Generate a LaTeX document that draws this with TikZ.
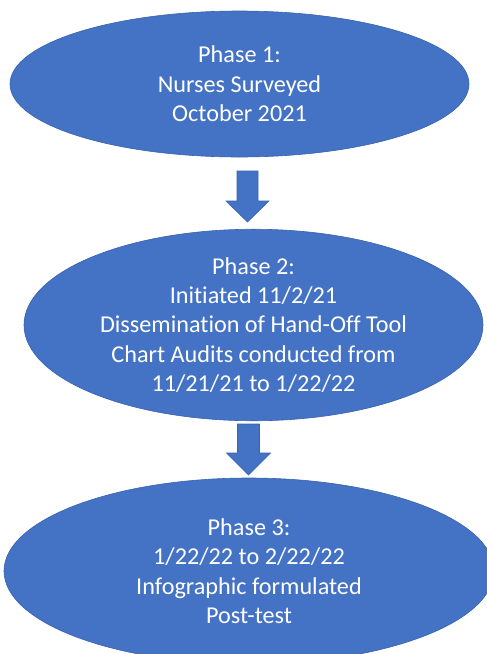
\documentclass[tikz,border=0pt]{standalone}
\usepackage{fontspec}
\setmainfont[Ligatures={NoCommon}]{Carlito}
\usetikzlibrary{shapes.geometric}
\definecolor{fillblue}{HTML}{4472C4}
\definecolor{edgeblue}{HTML}{3A63AE}
\tikzset{
  phase/.style={ellipse, fill=fillblue, draw=edgeblue, line width=0.6pt, inner sep=0pt,
    text=white, align=center, font=\fontsize{24.2}{29.4}\selectfont},
  blockarrow/.style={fill=fillblue, draw=edgeblue, line width=0.6pt}
}
\begin{document}
\begin{tikzpicture}[x=1pt,y=1pt]
\useasboundingbox (0,0) rectangle (487,-654);
\clip (0,0) rectangle (487,-654);
\node[phase, minimum width=459pt, minimum height=146pt] (p1) at (239.5,-84) {Phase 1:\\Nurses Surveyed\\October 2021};
\node[phase, minimum width=459pt, minimum height=184pt] (p2) at (253.5,-325) {Phase 2:\\Initiated 11/2/21\\Dissemination of Hand-Off Tool\\Chart Audits conducted from\\11/21/21 to 1/22/22};
\node[phase, minimum width=490pt, minimum height=186pt] (p3) at (249,-571) {Phase 3:\\1/22/22 to 2/22/22\\Infographic formulated\\Post-test};
% block arrows
\coordinate (a1) at (247.5,-171);
\coordinate (a2) at (248.5,-424);
\draw[blockarrow] (a1) ++(-10.5,0) -- ++(21,0) -- ++(0,-30) -- ++(11,0) -- ++(-21.5,-21) -- ++(-21.5,21) -- ++(11,0) -- cycle;
\draw[blockarrow] (a2) ++(-11,0) -- ++(22,0) -- ++(0,-29) -- ++(11,0) -- ++(-22,-22) -- ++(-22,22) -- ++(11,0) -- cycle;
\end{tikzpicture}
\end{document}
